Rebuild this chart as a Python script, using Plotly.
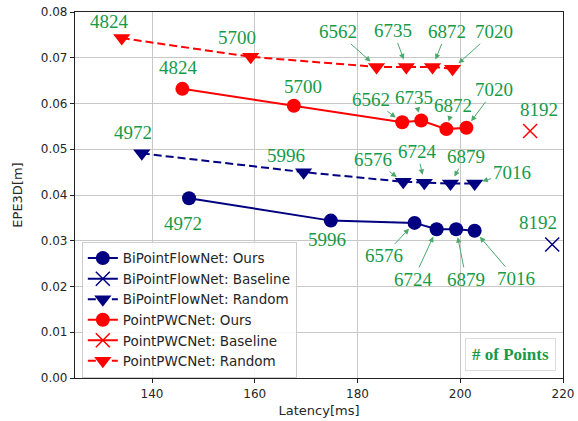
import plotly.graph_objects as go

# ---- data ----
bi_ours_lat = [147.2, 174.8, 191.1, 195.4, 199.2, 202.8]
bi_ours_epe = [0.0393, 0.0344, 0.0339, 0.0325, 0.0325, 0.0322]
bi_ours_pts = [4972, 5996, 6576, 6724, 6879, 7016]

bi_rand_lat = [138.0, 169.5, 188.9, 193.0, 198.1, 202.8]
bi_rand_epe = [0.0491, 0.0450, 0.0429, 0.0427, 0.0425, 0.0425]
bi_rand_pts = [4972, 5996, 6576, 6724, 6879, 7016]

bi_base_lat = [217.9]
bi_base_epe = [0.0292]
bi_base_pts = [8192]

pwc_ours_lat = [145.9, 167.6, 188.7, 192.4, 197.3, 201.2]
pwc_ours_epe = [0.0632, 0.0595, 0.0559, 0.0563, 0.0544, 0.0547]
pwc_ours_pts = [4824, 5700, 6562, 6735, 6872, 7020]

pwc_rand_lat = [134.1, 159.2, 183.7, 189.5, 194.6, 198.5]
pwc_rand_epe = [0.0743, 0.0702, 0.0680, 0.0680, 0.0680, 0.0676]
pwc_rand_pts = [4824, 5700, 6562, 6735, 6872, 7020]

pwc_base_lat = [213.6]
pwc_base_epe = [0.0540]
pwc_base_pts = [8192]

NAVY = "#000080"
RED = "#ff0000"
GREEN = "#169a48"
ARROW = "#4aa86a"

fig = go.Figure()

def add(name, x, y, color, symbol, size, dash="solid"):
    fig.add_trace(go.Scatter(
        x=x, y=y, name=name, mode="lines+markers",
        line=dict(color=color, width=2, dash=dash),
        marker=dict(color=color, symbol=symbol, size=size,
                    line=dict(color=color, width=1.5 if "x" in symbol else 0)),
    ))

add("BiPointFlowNet: Ours", bi_ours_lat, bi_ours_epe, NAVY, "circle", 14)
add("BiPointFlowNet: Baseline", bi_base_lat, bi_base_epe, NAVY, "x-thin", 14)
add("BiPointFlowNet: Random", bi_rand_lat, bi_rand_epe, NAVY, "triangle-down", 15, "8px,4px")
add("PointPWCNet: Ours", pwc_ours_lat, pwc_ours_epe, RED, "circle", 14)
add("PointPWCNet: Baseline", pwc_base_lat, pwc_base_epe, RED, "x-thin", 14)
add("PointPWCNet: Random", pwc_rand_lat, pwc_rand_epe, RED, "triangle-down", 15, "8px,4px")

# label offsets (pixels, dx right, dy down), arrow flag
def label(xs, ys, pts, offs):
    for x, y, p, (dx, dy, arr) in zip(xs, ys, pts, offs):
        if arr:
            fig.add_annotation(x=x, y=y, xref="x", yref="y", text=str(p),
                               showarrow=True, ax=dx, ay=dy,
                               arrowhead=2, arrowsize=1.1, arrowwidth=1,
                               arrowcolor=ARROW, standoff=8,
                               font=dict(family="Liberation Serif", size=19, color=GREEN))
        else:
            fig.add_annotation(x=x, y=y, xref="x", yref="y", text=str(p),
                               showarrow=False, xshift=dx, yshift=-dy,
                               font=dict(family="Liberation Serif", size=19, color=GREEN))

label(pwc_rand_lat, pwc_rand_epe, pwc_rand_pts,
      [(-12, -17, False), (-14, -19, False), (-39, -35, True),
       (-13, -36, True), (14, -35, True), (41, -37, True)])
label(pwc_ours_lat, pwc_ours_epe, pwc_ours_pts,
      [(-4, -21, False), (9, -19, False), (-31, -23, True),
       (-7, -23, True), (7, -24, True), (28, -38, True)])
label(pwc_base_lat, pwc_base_epe, pwc_base_pts, [(9, -21, False)])
label(bi_rand_lat, bi_rand_epe, bi_rand_pts,
      [(-9, -21, False), (-18, -17, False), (-30, -22, True),
       (-7, -31, True), (15, -27, True), (37, -11, True)])
label(bi_ours_lat, bi_ours_epe, bi_ours_pts,
      [(-6, 25, False), (-4, 19, False), (-31, 33, True),
       (-23, 50, True), (10, 50, True), (41, 48, True)])
label(bi_base_lat, bi_base_epe, bi_base_pts, [(-14, -22, False)])

fig.add_annotation(x=0.893, y=0.063, xref="paper", yref="paper",
                   xanchor="center", yanchor="middle",
                   text="<b># of Points</b>", showarrow=False,
                   font=dict(family="Liberation Serif", size=17, color=GREEN),
                   bgcolor="white", bordercolor="#dcdcdc", borderwidth=1, borderpad=6)

axis_common = dict(
    showgrid=True, gridcolor="#c8c8c8", gridwidth=1,
    showline=True, linecolor="#222222", linewidth=1.2, mirror=True,
    ticks="outside", ticklen=4, tickcolor="#222222",
    tickfont=dict(family="DejaVu Sans", size=12, color="#262626"),
    zeroline=False, automargin=False,
)

fig.update_layout(
    width=578, height=421,
    margin=dict(l=75, r=15, t=12, b=43, autoexpand=False),
    paper_bgcolor="white", plot_bgcolor="white",
    xaxis=dict(range=[125, 220], tickvals=[140, 160, 180, 200, 220],
               title=dict(text="Latency[ms]", standoff=6,
                          font=dict(family="DejaVu Sans", size=13, color="#262626")),
               **axis_common),
    yaxis=dict(range=[0, 0.08], tickvals=[0, 0.01, 0.02, 0.03, 0.04, 0.05, 0.06, 0.07, 0.08],
               tickformat=".2f",
               title=dict(text="EPE3D[m]", standoff=15,
                          font=dict(family="DejaVu Sans", size=13, color="#262626")),
               **axis_common),
    legend=dict(x=0.014, y=0.372, xanchor="left", yanchor="top",
                bgcolor="rgba(255,255,255,0.85)", bordercolor="#cccccc", borderwidth=1,
                font=dict(family="DejaVu Sans", size=13.5, color="#262626"),
                tracegroupgap=0, itemwidth=30),
    showlegend=True,
)

fig.write_html("out.html", config={"displayModeBar": False},
               post_script="document.body.style.margin='0px';document.body.style.overflow='hidden';")
